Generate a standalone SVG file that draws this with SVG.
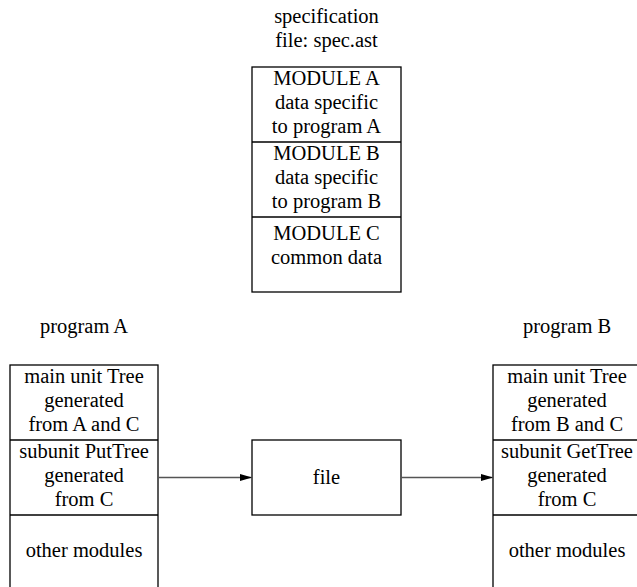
<svg xmlns="http://www.w3.org/2000/svg" width="637" height="587" viewBox="0 0 637 587">
<defs>
<style>
text{font-family:'Liberation Serif','DejaVu Serif',serif;font-size:20.5px;fill:#000;text-anchor:middle}
.box{fill:none;stroke:#000;stroke-width:1.3}
.div{stroke:#000;stroke-width:1.3}
.conn{stroke:#555;stroke-width:1.3;fill:none}
</style>
<marker id="arr" markerWidth="13" markerHeight="8" refX="12" refY="4" orient="auto" markerUnits="userSpaceOnUse">
<path d="M0,0.5 L12,4 L0,7.5 Z" fill="#000"/>
</marker>
</defs>
<rect width="637" height="587" fill="#fff"/>
<g id="spec">
<text x="326.5" y="23">specification</text>
<text x="326.5" y="47">file: spec.ast</text>
<rect class="box" x="252" y="67" width="149" height="225"/>
<line class="div" x1="252" y1="142" x2="401" y2="142"/>
<line class="div" x1="252" y1="217" x2="401" y2="217"/>
<text x="326.5" y="85">MODULE A</text>
<text x="326.5" y="109">data specific</text>
<text x="326.5" y="133">to program A</text>
<text x="326.5" y="160">MODULE B</text>
<text x="326.5" y="184">data specific</text>
<text x="326.5" y="208">to program B</text>
<text x="326.5" y="240">MODULE C</text>
<text x="326.5" y="264">common data</text>
</g>
<g id="progA">
<text x="84" y="333">program A</text>
<rect class="box" x="10" y="365" width="148" height="230"/>
<line class="div" x1="10" y1="440" x2="158" y2="440"/>
<line class="div" x1="10" y1="515" x2="158" y2="515"/>
<text x="84" y="383">main unit Tree</text>
<text x="84" y="407">generated</text>
<text x="84" y="431">from A and C</text>
<text x="84" y="458">subunit PutTree</text>
<text x="84" y="482">generated</text>
<text x="84" y="506">from C</text>
<text x="84" y="557">other modules</text>
</g>
<g id="file">
<rect class="box" x="252" y="440" width="149" height="75"/>
<text x="326.5" y="484">file</text>
</g>
<g id="progB">
<text x="567" y="333">program B</text>
<rect class="box" x="493" y="365" width="148" height="230"/>
<line class="div" x1="493" y1="440" x2="641" y2="440"/>
<line class="div" x1="493" y1="515" x2="641" y2="515"/>
<text x="567" y="383">main unit Tree</text>
<text x="567" y="407">generated</text>
<text x="567" y="431">from B and C</text>
<text x="567" y="458">subunit GetTree</text>
<text x="567" y="482">generated</text>
<text x="567" y="506">from C</text>
<text x="567" y="557">other modules</text>
</g>
<g id="connectors">
<line class="conn" x1="158" y1="477.5" x2="252" y2="477.5" marker-end="url(#arr)"/>
<line class="conn" x1="401" y1="477.5" x2="493" y2="477.5" marker-end="url(#arr)"/>
</g>
</svg>
